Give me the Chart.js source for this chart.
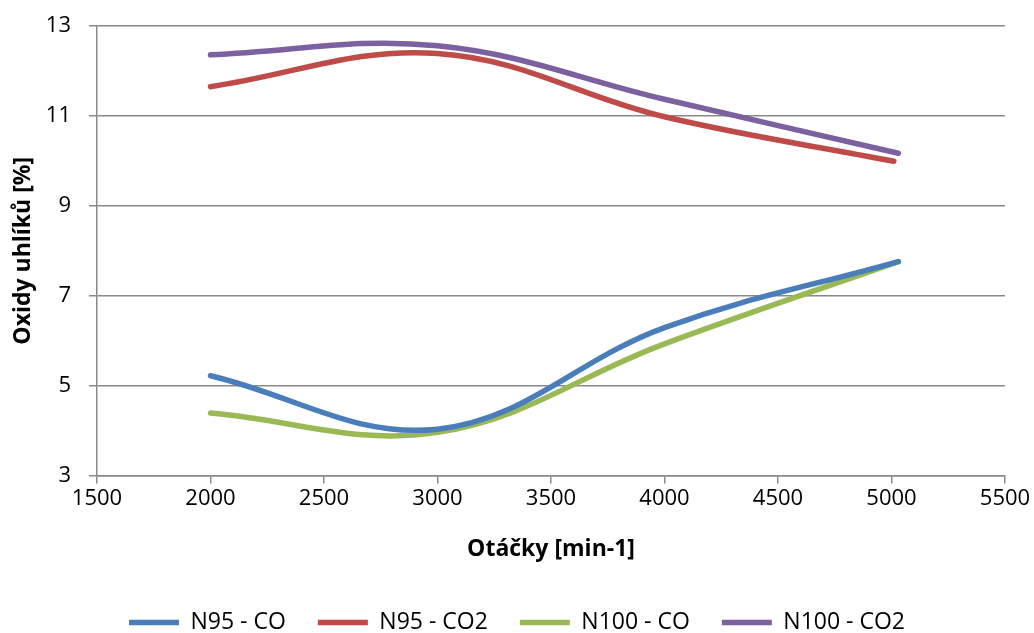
<!DOCTYPE html>
<html>
<head>
<meta charset="utf-8">
<script src="https://cdn.jsdelivr.net/npm/chart.js@4/dist/chart.umd.min.js"></script>
<style>
  html, body { margin: 0; padding: 0; background: #fff; }
  #wrap { width: 1034px; height: 633px; position: relative; }
</style>
</head>
<body>
<div id="wrap"><canvas id="c"></canvas></div>
<script>
// Otáčky motoru [min-1]
const n95CoRpm = [2000, 3000, 4000, 5030];
const n95Co2Rpm = [2000, 3000, 4000, 5010];
const n100CoRpm = [2000, 3000, 4000, 5030];
const n100Co2Rpm = [2000, 3000, 4000, 5030];

// Oxidy uhlíku [%]
const n95Co = [5.22, 4.03, 6.29, 7.76];
const n95Co2 = [11.65, 12.39, 10.98, 9.99];
const n100Co = [4.39, 3.96, 5.93, 7.76];
const n100Co2 = [12.36, 12.56, 11.37, 10.17];

const seriesNames = ['N95 - CO', 'N95 - CO2', 'N100 - CO', 'N100 - CO2'];
const seriesColors = ['#4a7ebb', '#be4b48', '#98b954', '#7d60a0'];

const xTicks = [1500, 2000, 2500, 3000, 3500, 4000, 4500, 5000, 5500];
const yTicks = [3, 5, 7, 9, 11, 13];

function pairs(xs, ys) { return xs.map((x, i) => ({ x, y: ys[i] })); }

const rpmSets = [n95CoRpm, n95Co2Rpm, n100CoRpm, n100Co2Rpm];
const valueSets = [n95Co, n95Co2, n100Co, n100Co2];

const datasets = seriesNames.map((name, i) => ({
  label: name,
  data: pairs(rpmSets[i], valueSets[i]),
  borderColor: seriesColors[i],
  backgroundColor: seriesColors[i],
  borderWidth: 5.5,
  borderCapStyle: 'round',
  borderJoinStyle: 'round',
  pointRadius: 0,
  pointHoverRadius: 0,
  tension: 0.38,
  fill: false
}));

const FONT = '"Open Sans", "DejaVu Sans", sans-serif';
const gridColor = '#898989';

new Chart(document.getElementById('c'), {
  type: 'line',
  data: { datasets },
  options: {
    responsive: true,
    maintainAspectRatio: false,
    animation: false,
    layout: { padding: { left: 0, right: 0, top: 26, bottom: -11 } },
    plugins: {
      tooltip: { enabled: false },
      legend: {
        position: 'bottom',
        labels: {
          font: { family: FONT, size: 23 },
          color: '#000',
          usePointStyle: true,
          pointStyle: 'line',
          pointStyleWidth: 50,
          padding: 32
        }
      }
    },
    scales: {
      x: {
        type: 'linear',
        min: 1500,
        max: 5500,
        afterBuildTicks: axis => { axis.ticks = xTicks.map(v => ({ value: v })); },
        afterFit: scale => { scale.paddingRight = 29; scale.height = 103.5; },
        ticks: {
          font: { family: FONT, size: 22 },
          color: '#000',
          padding: 2,
          maxRotation: 0,
          callback: v => String(v)
        },
        grid: {
          drawOnChartArea: false,
          drawTicks: true,
          tickLength: 8,
          color: gridColor,
          lineWidth: 1.5
        },
        border: { color: gridColor, width: 1.5 },
        title: {
          display: true,
          text: 'Otáčky [min-1]',
          font: { family: FONT, size: 23, weight: 'bold' },
          color: '#000',
          padding: { top: 10, bottom: 16 }
        }
      },
      y: {
        type: 'linear',
        min: 3,
        max: 13,
        afterBuildTicks: axis => { axis.ticks = yTicks.map(v => ({ value: v })); },
        afterFit: scale => { scale.width = 97; scale.paddingTop = 0; scale.paddingBottom = 0; },
        ticks: {
          font: { family: FONT, size: 22 },
          color: '#000',
          padding: 18,
          callback: v => String(v)
        },
        grid: {
          color: gridColor,
          lineWidth: 1.5,
          drawTicks: true,
          tickLength: 8
        },
        border: { color: gridColor, width: 1.5 },
        title: {
          display: true,
          text: 'Oxidy uhlíků [%]',
          font: { family: FONT, size: 23, weight: 'bold' },
          color: '#000',
          padding: { top: 10, bottom: 10 }
        }
      }
    }
  }
});
</script>
</body>
</html>
